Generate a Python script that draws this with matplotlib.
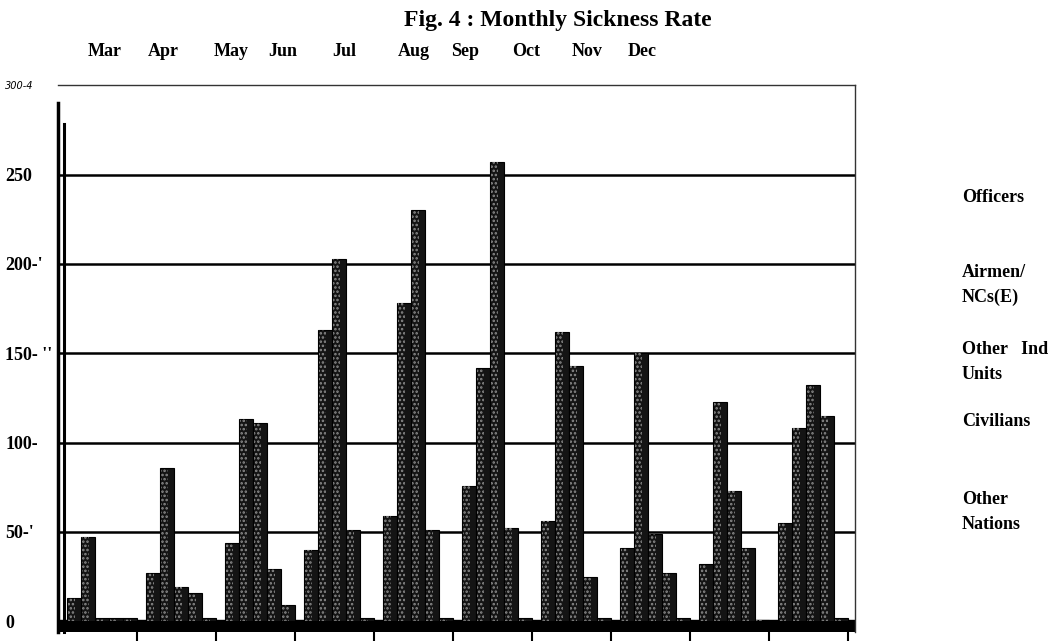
# plot.py
# Fig. 4 : Monthly Sickness Rate (scan-style grouped bars)

import numpy as np
import matplotlib
matplotlib.use("Agg")
import matplotlib.pyplot as plt

plt.rcParams['font.family'] = ['Liberation Serif', 'DejaVu Serif']
plt.rcParams['hatch.linewidth'] = 1.2

################################################################################
# DATA

months = ['Mar', 'Apr', 'May', 'Jun', 'Jul', 'Aug', 'Sep', 'Oct', 'Nov', 'Dec']
series_names = ['Officers', 'Airmen/\nNCs(E)', 'Other   Ind\nUnits', 'Civilians',
                'Other\nNations']

officers = [13, 27, 44, 40, 59, 76, 56, 41, 32, 55]
airmen = [47, 86, 113, 163, 178, 142, 162, 150, 123, 108]
other_ind = [2, 19, 111, 203, 230, 257, 143, 49, 73, 132]
civilians = [2, 16, 29, 51, 51, 52, 25, 27, 41, 115]
other_nations = [2, 2, 9, 2, 2, 2, 2, 2, 1, 2]

grid_values = [50, 100, 150, 200, 250]
ytick_values = [0, 50, 100, 150, 200, 250, 300]
ytick_labels = ['0', "50-'", '100-', "150- ''", "200-'", '250', '300-4']

################################################################################
# FIGURE

fig = plt.figure(figsize=(10.63, 6.41), dpi=100)
ax = fig.add_axes([0.0546, 0.014, 0.7497, 0.853])

x = np.arange(len(months))
w = 0.177
all_series = [officers, airmen, other_ind, civilians, other_nations]

for k, vals in enumerate(all_series):
    pos = x + (k - 2) * w
    ax.bar(pos, vals, width=w, color='#141414', edgecolor='black', lw=0.8, zorder=3)
    # speckled front face
    ax.bar(pos - w * 0.18, vals, width=w * 0.55, facecolor='none',
           edgecolor='#8c8c8c', hatch='....', lw=0, zorder=4)

for v in grid_values:
    ax.axhline(v, color='black', lw=1.8, zorder=1)

# floor of the chart
ax.axhspan(-6, 0.5, color='black', zorder=2)

ax.set_xlim(-0.557, 9.53)
ax.set_ylim(-6, 300)

# boundaries between month groups
ax.set_xticks(x + 0.443)
ax.set_xticklabels([])
ax.tick_params(axis='x', direction='out', length=7, width=1.5, color='black')

ax.set_yticks(ytick_values)
ax.set_yticklabels(ytick_labels)
ax.tick_params(axis='y', length=0, pad=38)
for lab in ax.get_yticklabels():
    lab.set_horizontalalignment('left')
    lab.set_fontweight('bold')
    lab.set_fontsize(13)
top_lab = ax.get_yticklabels()[-1]
top_lab.set_fontsize(7)
top_lab.set_fontweight('normal')
top_lab.set_fontstyle('italic')
top_lab.set_family('DejaVu Sans')

ax.spines['left'].set_linewidth(2.5)
ax.spines['left'].set_bounds(-6, 290)
ax.spines['bottom'].set_visible(False)
ax.spines['top'].set_linewidth(1.0)
ax.spines['top'].set_color('#333333')
ax.spines['right'].set_linewidth(1.0)
ax.spines['right'].set_color('#333333')
ax.plot([0.0075, 0.0075], [0.0, 0.93], transform=ax.transAxes, color='black',
        lw=2.2, clip_on=False, zorder=5)

# title and month labels
fig.text(0.525, 0.968, 'Fig. 4 : Monthly Sickness Rate', ha='center', va='center',
         fontsize=17, fontweight='bold')
month_x = [105, 163, 231, 283, 344, 414, 465, 526, 587, 642]
for mx, m in zip(month_x, months):
    fig.text(mx / 1063, 0.919, m, ha='center', va='center', fontsize=13,
             fontweight='bold')

# right side labels
label_y = [198, 285, 362, 422, 512]
for ly, name in zip(label_y, series_names):
    fig.text(962 / 1063, 1 - ly / 641, name, ha='left', va='center', fontsize=13,
             fontweight='bold', linespacing=1.6)

plt.savefig('out.png', dpi=100)
